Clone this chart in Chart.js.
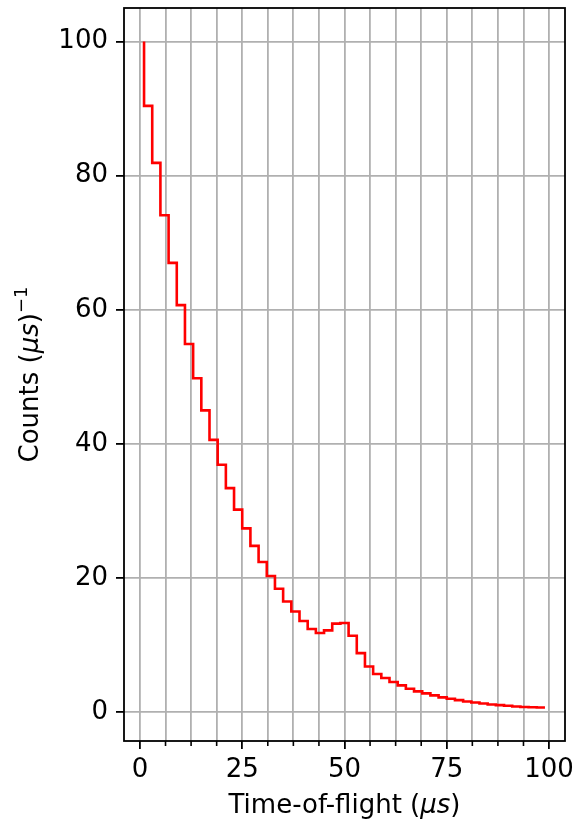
<!DOCTYPE html>
<html>
<head>
<meta charset="utf-8">
<script src="https://cdn.jsdelivr.net/npm/chart.js@4.4.1/dist/chart.umd.min.js"></script>
<style>
  html, body { margin: 0; padding: 0; background: #fff; }
</style>
</head>
<body>
<canvas id="tof_chart" width="577" height="823"></canvas>
<script>
// bin centres (us) and counts per us
const tof = [1, 3, 5, 7, 9, 11, 13, 15, 17, 19,
             21, 23, 25, 27, 29, 31, 33, 35, 37, 39,
             41, 43, 45, 47, 49, 51, 53, 55, 57, 59,
             61, 63, 65, 67, 69, 71, 73, 75, 77, 79,
             81, 83, 85, 87, 89, 91, 93, 95, 97, 99];
const counts = [100, 90.4, 81.9, 74.1, 67.0, 60.7, 54.9, 49.8, 45.0, 40.6,
                36.9, 33.4, 30.2, 27.4, 24.8, 22.4, 20.3, 18.4, 16.5, 15.0,
                13.6, 12.4, 11.8, 12.2, 13.2, 13.3, 11.4, 8.8, 6.8, 5.7,
                5.1, 4.5, 4.0, 3.5, 3.1, 2.8, 2.5, 2.2, 2.0, 1.8,
                1.6, 1.45, 1.3, 1.15, 1.05, 0.95, 0.85, 0.78, 0.74, 0.7];

const xTicks = [0, 6.25, 12.5, 18.75, 25, 31.25, 37.5, 43.75, 50,
                56.25, 62.5, 68.75, 75, 81.25, 87.5, 93.75, 100];
const xMajor = [0, 25, 50, 75, 100];
const yTicks = [0, 20, 40, 60, 80, 100];

const FAMILY = "'DejaVu Sans'";
const FS = 26;

function partsWidth(ctx, parts) {
  let w = 0;
  parts.forEach(p => { ctx.font = p.font; w += ctx.measureText(p.text).width; });
  return w;
}
function drawParts(ctx, parts, x, y) {
  parts.forEach(p => {
    ctx.font = p.font;
    ctx.fillText(p.text, x, y + (p.dy || 0));
    x += ctx.measureText(p.text).width;
  });
}

const normal = FS + "px " + FAMILY;
const italic = "italic " + FS + "px " + FAMILY;

const framePlugin = {
  id: 'frame',
  afterDraw(chart) {
    const ctx = chart.ctx;
    const a = chart.chartArea;
    const xs = chart.scales.x;
    ctx.save();
    // minor ticks on the x axis
    ctx.strokeStyle = '#000';
    ctx.lineWidth = 1.6;
    xTicks.forEach(v => {
      if (xMajor.includes(v)) return;
      const px = xs.getPixelForValue(v);
      ctx.beginPath();
      ctx.moveTo(px, a.bottom);
      ctx.lineTo(px, a.bottom + 5);
      ctx.stroke();
    });
    // axes box
    ctx.lineWidth = 1.8;
    ctx.strokeRect(a.left, a.top, a.right - a.left, a.bottom - a.top);

    ctx.fillStyle = '#000';
    ctx.textBaseline = 'alphabetic';
    ctx.textAlign = 'left';

    // x title
    const xt = [
      { text: 'Time-of-flight (', font: normal },
      { text: 'μs', font: italic },
      { text: ')', font: normal }
    ];
    const cx = (a.left + a.right) / 2;
    drawParts(ctx, xt, cx - partsWidth(ctx, xt) / 2, 813);

    // y title
    const yt = [
      { text: 'Counts (', font: normal },
      { text: 'μs', font: italic },
      { text: ')', font: normal },
      { text: '−1', font: '18px ' + FAMILY, dy: -11 }
    ];
    ctx.translate(38, (a.top + a.bottom) / 2);
    ctx.rotate(-Math.PI / 2);
    drawParts(ctx, yt, -partsWidth(ctx, yt) / 2, 0);
    ctx.restore();
  }
};

new Chart("tof_chart", {
  type: "line",
  data: {
    datasets: [{
      label: 'counts',
      data: tof.map((t, i) => ({ x: t, y: counts[i] })),
      borderColor: '#ff0000',
      borderWidth: 2.6,
      pointRadius: 0,
      fill: false,
      stepped: 'after'
    }]
  },
  options: {
    responsive: false,
    animation: false,
    layout: { padding: { top: 8, right: 12, left: 0, bottom: 0 } },
    plugins: {
      legend: { display: false },
      tooltip: { enabled: false }
    },
    scales: {
      x: {
        type: 'linear',
        min: -3.9,
        max: 103.9,
        afterBuildTicks: s => { s.ticks = xTicks.map(v => ({ value: v })); },
        afterFit: s => { s.height = 82; s.paddingLeft = 0; s.paddingRight = 0; },
        border: { display: false },
        grid: {
          color: '#b0b0b0',
          lineWidth: 1.8,
          tickLength: 8,
          tickWidth: 1.8,
          tickColor: c => (c.tick && xMajor.includes(c.tick.value)) ? '#000' : 'rgba(0,0,0,0)'
        },
        ticks: {
          autoSkip: false,
          maxRotation: 0,
          padding: 6,
          color: '#000',
          font: { family: FAMILY, size: FS },
          callback: v => xMajor.includes(v) ? String(v) : ''
        }
      },
      y: {
        min: -4.3,
        max: 105,
        afterBuildTicks: s => { s.ticks = yTicks.map(v => ({ value: v })); },
        afterFit: s => { s.width = 124; s.paddingTop = 0; s.paddingBottom = 0; },
        border: { display: false },
        grid: {
          color: '#b0b0b0',
          lineWidth: 1.8,
          tickLength: 8,
          tickWidth: 1.8,
          tickColor: '#000'
        },
        ticks: {
          padding: 8,
          color: '#000',
          font: { family: FAMILY, size: FS }
        }
      }
    }
  },
  plugins: [framePlugin]
});
</script>
</body>
</html>
